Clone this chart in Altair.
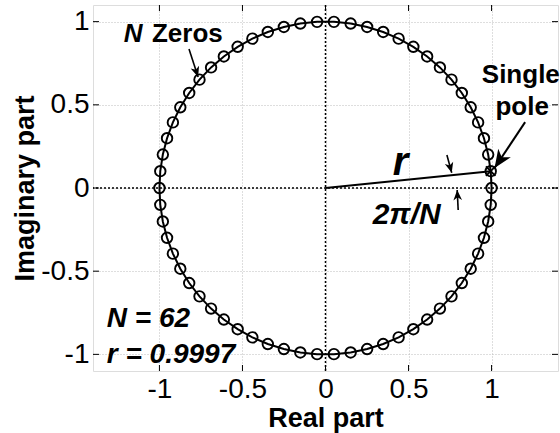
import math
import altair as alt
import pandas as pd

# ---- parameters of the system ----
N = 62          # number of zeros on the unit circle
r = 0.9997      # pole radius
tick_values = [-1, -0.5, 0, 0.5, 1]
x_domain = [-1.4, 1.4]
y_domain = [-1.1, 1.1]

W, H = 465, 366
FONT = "Liberation Sans"

# zeros at e^{j 2 pi k / N}, k = 0..N-1
zero_k = list(range(N))
zero_x = [math.cos(2 * math.pi * k / N) for k in zero_k]
zero_y = [math.sin(2 * math.pi * k / N) for k in zero_k]
zeros = pd.DataFrame({"k": zero_k, "x": zero_x, "y": zero_y})

# unit circle drawn through the zeros (closed)
circle = pd.DataFrame({"k": zero_k + [N], "x": zero_x + [zero_x[0]], "y": zero_y + [zero_y[0]]})

# single pole at angle 2*pi/N, radius r
pole_angle = 2 * math.pi / N
pole = pd.DataFrame({"x": [r * math.cos(pole_angle)], "y": [r * math.sin(pole_angle)]})
radius_line = pd.DataFrame({"x": [0.0], "y": [0.0], "x2": pole["x"], "y2": pole["y"]})

xs = alt.Scale(domain=x_domain, nice=False, zero=False)
ys = alt.Scale(domain=y_domain, nice=False, zero=False)
kx, ky = W / (x_domain[1] - x_domain[0]), H / (y_domain[1] - y_domain[0])

x_axis = alt.Axis(values=tick_values, title="Real part", grid=True, gridDash=[1, 2],
                  gridColor="#bdbdbd", gridWidth=1, tickSize=0, domain=False,
                  labelPadding=4, labelFont=FONT, labelFontSize=28, labelColor="black",
                  labelExpr="'' + datum.value",
                  titleFont=FONT, titleFontSize=27, titleFontWeight="bold", titleColor="black",
                  titleX=W / 2, titleY=55, titleBaseline="alphabetic")
y_axis = alt.Axis(values=tick_values, title="Imaginary part", grid=True, gridDash=[1, 2],
                  gridColor="#bdbdbd", gridWidth=1, tickSize=0, domain=False,
                  labelPadding=4, labelFont=FONT, labelFontSize=28, labelColor="black",
                  labelExpr="'' + datum.value",
                  titleFont=FONT, titleFontSize=27, titleFontWeight="bold", titleColor="black",
                  titleX=-68, titleY=H / 2, titleBaseline="middle", titleAngle=-90)


def X(field):
    return alt.X(f"{field}:Q", scale=xs, axis=x_axis)


def Y(field):
    return alt.Y(f"{field}:Q", scale=ys, axis=y_axis)


circle_line = alt.Chart(circle).mark_line(color="black", strokeWidth=2).encode(
    x=X("x"), y=Y("y"), order="k:Q")

# dotted real / imaginary axes through the origin
origin = pd.DataFrame({"v": [0.0]})
vline = alt.Chart(origin).mark_rule(color="black", strokeWidth=1.5, strokeDash=[2, 2]).encode(x=X("v"))
hline = alt.Chart(origin).mark_rule(color="black", strokeWidth=1.5, strokeDash=[2, 2]).encode(y=Y("v"))

# inward ticks on all four sides
ticks = pd.DataFrame({"v": tick_values})
tick_style = dict(color="black", strokeWidth=1)
t_bottom = alt.Chart(ticks).mark_rule(**tick_style).encode(x=X("v"), y=alt.value(H), y2=alt.value(H - 6))
t_top = alt.Chart(ticks).mark_rule(**tick_style).encode(x=X("v"), y=alt.value(0), y2=alt.value(6))
t_left = alt.Chart(ticks).mark_rule(**tick_style).encode(y=Y("v"), x=alt.value(0), x2=alt.value(6))
t_right = alt.Chart(ticks).mark_rule(**tick_style).encode(y=Y("v"), x=alt.value(W), x2=alt.value(W - 6))

zero_marks = alt.Chart(zeros).mark_point(shape="circle", filled=False, color="black",
                                         size=110, strokeWidth=1.9, opacity=1).encode(
    x=X("x"), y=Y("y"))

pole_mark = alt.Chart(pole).mark_point(shape="M-1,-1L1,1M-1,1L1,-1", filled=False, color="black",
                                       size=90, strokeWidth=1.8, opacity=1).encode(
    x=X("x"), y=Y("y"))

r_line = alt.Chart(radius_line).mark_rule(color="black", strokeWidth=2).encode(
    x=X("x"), y=Y("y"), x2="x2:Q", y2="y2:Q")

# annotation arrows: tail (x, y) -> tip (x2, y2)
arrow_x = [-0.822, 1.202, 0.731, 0.799]
arrow_y = [0.835, 0.396, 0.198, -0.132]
arrow_x2 = [-0.767, 1.018, 0.760, 0.793]
arrow_y2 = [0.667, 0.120, 0.092, -0.012]
arrow_head = [440, 1300, 420, 420]
arrow_width = [1.6, 2, 1.6, 1.6]
arrows = pd.DataFrame({"x": arrow_x, "y": arrow_y, "x2": arrow_x2, "y2": arrow_y2,
                       "head": arrow_head, "w": arrow_width})
arrows["angle"] = [
    math.degrees(math.atan2((b - a) * kx, (d - c) * ky)) % 360
    for a, b, c, d in zip(arrow_x, arrow_x2, arrow_y, arrow_y2)
]

shafts = alt.Chart(arrows).mark_rule(color="black").encode(
    x=X("x"), y=Y("y"), x2="x2:Q", y2="y2:Q", strokeWidth=alt.StrokeWidth("w:Q", scale=None))
heads = alt.Chart(arrows).mark_point(shape="M0,0L-0.42,1L0,0.72L0.42,1Z", filled=True,
                                     color="black", opacity=1).encode(
    x=X("x2"), y=Y("y2"),
    size=alt.Size("head:Q", scale=None), angle=alt.Angle("angle:Q", scale=None))


def label(x, y, text, size, italic=False, align="left"):
    df = pd.DataFrame({"x": [x], "y": [y], "t": [text]})
    return alt.Chart(df).mark_text(font=FONT, fontSize=size, fontWeight="bold",
                                   fontStyle="italic" if italic else "normal",
                                   align=align, baseline="alphabetic", color="black").encode(
        x=X("x"), y=Y("y"), text="t:N")


texts = [
    label(-1.215, 0.877, "N", 26, italic=True),
    label(-1.045, 0.877, "Zeros", 26),
    label(1.176, 0.631, "Single", 26, align="center"),
    label(1.184, 0.438, "pole", 26, align="center"),
    label(0.405, 0.078, "r", 40, italic=True),
    label(0.284, -0.216, "2π/N", 30, italic=True),
    label(-1.317, -0.835, "N = 62", 28, italic=True),
    label(-1.317, -1.051, "r = 0.9997", 28, italic=True),
]

chart = alt.layer(
    circle_line, vline, hline, t_bottom, t_top, t_left, t_right,
    r_line, zero_marks, pole_mark, shafts, heads, *texts
).properties(
    width=W, height=H,
    autosize=alt.AutoSizeParams(type="none"),
    padding={"left": 93, "top": 5, "right": 2, "bottom": 62},
).configure_view(stroke="black", strokeWidth=1.5).configure(background="white")

chart.save("out.html", embed_options={"renderer": "svg", "actions": False})
